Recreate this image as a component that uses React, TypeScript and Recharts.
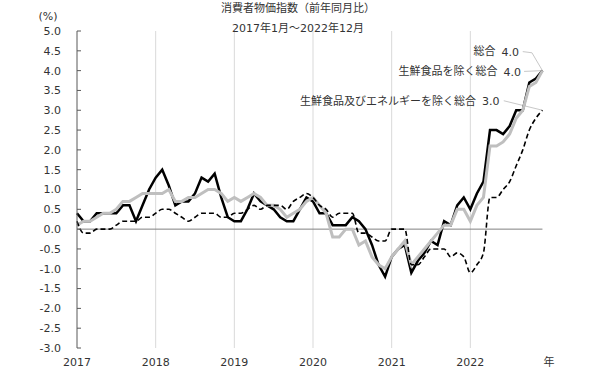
import React from "react";
import { LineChart, Line, XAxis, YAxis, ReferenceLine } from "recharts";

// 消費者物価指数（前年同月比）, 2017年1月～2022年12月, monthly
const years = ["2017", "2018", "2019", "2020", "2021", "2022"];
const xTickLabels = [...years, "年"];
const yTicks = [-3, -2.5, -2, -1.5, -1, -0.5, 0, 0.5, 1, 1.5, 2, 2.5, 3, 3.5, 4, 4.5, 5];

const seriesNames = ["総合", "生鮮食品を除く総合", "生鮮食品及びエネルギーを除く総合"];

// 総合
const headline = [
  0.4, 0.2, 0.2, 0.4, 0.4, 0.4, 0.4, 0.6, 0.6, 0.2, 0.6, 1.0,
  1.3, 1.5, 1.1, 0.6, 0.7, 0.7, 0.9, 1.3, 1.2, 1.4, 0.8, 0.3,
  0.2, 0.2, 0.5, 0.9, 0.7, 0.6, 0.5, 0.3, 0.2, 0.2, 0.5, 0.8,
  0.7, 0.4, 0.4, 0.1, 0.1, 0.1, 0.3, 0.2, 0.0, -0.4, -0.9, -1.2,
  -0.7, -0.5, -0.4, -1.1, -0.8, -0.6, -0.3, -0.4, 0.2, 0.1, 0.6, 0.8,
  0.5, 0.9, 1.2, 2.5, 2.5, 2.4, 2.6, 3.0, 3.0, 3.7, 3.8, 4.0,
];

// 生鮮食品を除く総合
const core = [
  0.1, 0.2, 0.2, 0.3, 0.4, 0.4, 0.5, 0.7, 0.7, 0.8, 0.9, 0.9,
  0.9, 0.9, 1.0, 0.7, 0.7, 0.8, 0.8, 0.9, 1.0, 1.0, 0.9, 0.7,
  0.8, 0.7, 0.8, 0.9, 0.8, 0.6, 0.6, 0.5, 0.3, 0.4, 0.5, 0.7,
  0.8, 0.6, 0.4, -0.2, -0.2, 0.0, 0.0, -0.4, -0.3, -0.7, -0.9, -1.0,
  -0.7, -0.5, -0.3, -0.9, -0.7, -0.5, -0.3, -0.1, 0.1, 0.1, 0.5, 0.5,
  0.2, 0.6, 0.8, 2.1, 2.1, 2.2, 2.4, 2.8, 3.0, 3.6, 3.7, 4.0,
];

// 生鮮食品及びエネルギーを除く総合
const coreCore = [
  0.2, -0.1, -0.1, 0.0, 0.0, 0.0, 0.1, 0.2, 0.2, 0.2, 0.3, 0.3,
  0.4, 0.5, 0.5, 0.4, 0.3, 0.2, 0.3, 0.4, 0.4, 0.4, 0.3, 0.3,
  0.4, 0.4, 0.5, 0.6, 0.5, 0.6, 0.6, 0.6, 0.5, 0.7, 0.8, 0.9,
  0.8, 0.6, 0.5, 0.3, 0.4, 0.4, 0.4, -0.1, -0.1, -0.2, -0.3, -0.3,
  0.0, 0.0, 0.0, -0.9, -0.9, -0.7, -0.5, -0.5, -0.5, -0.7, -0.6, -0.7,
  -1.1, -0.9, -0.6, 0.8, 0.8, 1.0, 1.2, 1.6, 2.0, 2.5, 2.8, 3.0,
];

const data = headline.map((v, i) => ({
  i,
  headline: v,
  core: core[i],
  coreCore: coreCore[i],
}));

const xTicks = xTickLabels.map((_, k) => k * 12);
const last = data.length - 1;

const font = '"DejaVu Sans", "Noto Sans CJK JP", sans-serif';
const textColor = "#333";

function XTick({ x, y, payload }: any) {
  return (
    <text
      x={x}
      y={y + 14}
      textAnchor="middle"
      dominantBaseline="central"
      fontSize={11}
      fontFamily={font}
      fill={textColor}
    >
      {xTickLabels[payload.value / 12]}
    </text>
  );
}

function Label({ x, y, name, value }: { x: number; y: number; name: string; value: number }) {
  return (
    <text x={x} y={y} textAnchor="end" dominantBaseline="central" fontSize={11} fontFamily={font} fill={textColor}>
      {name}
      <tspan dx={6}>{value.toFixed(1)}</tspan>
    </text>
  );
}

export default function App() {
  return (
    <div style={{ position: "absolute", left: 0, top: 0, width: 606, height: 380, background: "#fff" }}>
      <LineChart
        width={606}
        height={380}
        data={data}
        margin={{ top: 31, right: 57, bottom: 0, left: 17 }}
      >
        <XAxis
          dataKey="i"
          type="number"
          domain={[0, 72]}
          ticks={xTicks}
          interval={0}
          axisLine={false}
          tickLine={false}
          tickSize={0}
          tickMargin={0}
          height={32}
          tick={<XTick />}
        />
        <YAxis
          type="number"
          domain={[-3, 5]}
          ticks={yTicks}
          interval={0}
          width={60}
          tickSize={4}
          tickMargin={12}
          tickFormatter={(v: number) => v.toFixed(1)}
          tick={{ fontSize: 11, fill: textColor, fontFamily: font }}
          axisLine={{ stroke: "#595959" }}
          tickLine={{ stroke: "#595959", transform: "translate(4,0)" }}
        />
        {xTicks.slice(1, -1).map((t) => (
          <ReferenceLine key={t} x={t} stroke="#d9d9d9" strokeWidth={1} />
        ))}
        <ReferenceLine
          segment={[{ x: 0, y: 0 }, { x: last, y: 0 }]}
          stroke="#808080"
          strokeWidth={1}
        />
        {/* leader lines from labels to series ends */}
        <ReferenceLine
          segment={[{ x: 68.0, y: 4.48 }, { x: 69.4, y: 4.45 }]}
          stroke="#c8c8c8"
          ifOverflow="visible"
        />
        <ReferenceLine
          segment={[{ x: 69.4, y: 4.45 }, { x: last, y: headline[last] }]}
          stroke="#c8c8c8"
          ifOverflow="visible"
        />
        <ReferenceLine
          segment={[{ x: 68.2, y: 3.98 }, { x: last, y: core[last] }]}
          stroke="#c8c8c8"
          ifOverflow="visible"
        />
        <ReferenceLine
          segment={[{ x: 65.1, y: 3.24 }, { x: last, y: coreCore[last] }]}
          stroke="#c8c8c8"
          ifOverflow="visible"
        />
        <Line
          dataKey="headline"
          name={seriesNames[0]}
          type="linear"
          stroke="#000"
          strokeWidth={2.5}
          dot={false}
          isAnimationActive={false}
        />
        <Line
          dataKey="core"
          name={seriesNames[1]}
          type="linear"
          stroke="#bfbfbf"
          strokeWidth={3}
          dot={false}
          isAnimationActive={false}
        />
        <Line
          dataKey="coreCore"
          name={seriesNames[2]}
          type="monotone"
          stroke="#000"
          strokeWidth={1.6}
          strokeDasharray="5 3"
          dot={false}
          isAnimationActive={false}
        />
      </LineChart>
      <svg
        width={606}
        height={380}
        style={{ position: "absolute", left: 0, top: 0, pointerEvents: "none" }}
      >
        <text x={298} y={8} textAnchor="middle" dominantBaseline="central" fontSize={11} fontFamily={font} fill={textColor}>
          消費者物価指数（前年同月比）
        </text>
        <text x={298} y={28} textAnchor="middle" dominantBaseline="central" fontSize={11} fontFamily={font} fill={textColor}>
          {`${years[0]}年1月～${years[years.length - 1]}年12月`}
        </text>
        <text x={48} y={16} textAnchor="middle" dominantBaseline="central" fontSize={11} fontFamily={font} fill={textColor}>
          (%)
        </text>
        <Label x={519} y={51.5} name={seriesNames[0]} value={headline[last]} />
        <Label x={521} y={71.5} name={seriesNames[1]} value={core[last]} />
        <Label x={499.5} y={101} name={seriesNames[2]} value={coreCore[last]} />
      </svg>
    </div>
  );
}
